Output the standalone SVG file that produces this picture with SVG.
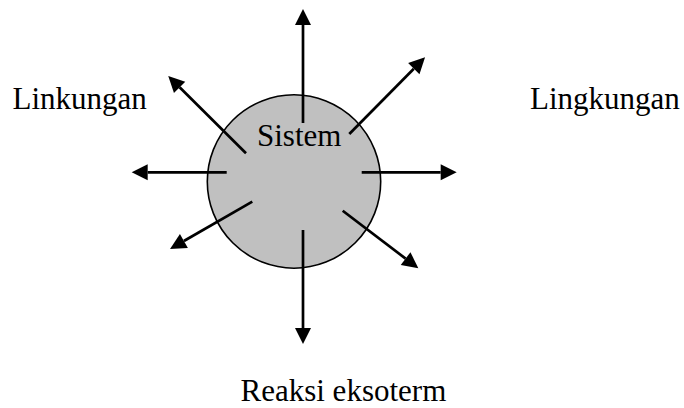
<svg xmlns="http://www.w3.org/2000/svg" width="684" height="408" viewBox="0 0 684 408">
  <style>
    .lbl { font-family: "Liberation Serif", "Times New Roman", serif; font-size: 31px; fill: #000; }
    .arr { stroke: #000; stroke-width: 2.7; fill: none; marker-end: url(#ah); }
  </style>
  <defs>
    <marker id="ah" markerUnits="userSpaceOnUse" markerWidth="16" markerHeight="16" viewBox="0 0 16 16" refX="0" refY="8" orient="auto" overflow="visible">
      <path d="M0,0 L16,8 L0,16 z" fill="#000"/>
    </marker>
  </defs>
  <rect width="684" height="408" fill="#fff"/>
  <g id="sistem">
    <circle cx="294" cy="181.5" r="86.7" fill="#c0c0c0" stroke="#000" stroke-width="1.6"/>
  </g>
  <g id="connectors">
    <line class="arr" x1="303" y1="123" x2="303" y2="25"/>
    <line class="arr" x1="303" y1="230" x2="303" y2="328"/>
    <line class="arr" x1="226.7" y1="172.3" x2="147.7" y2="172.3"/>
    <line class="arr" x1="361.7" y1="172.3" x2="440.7" y2="172.3"/>
    <line class="arr" x1="349.3" y1="134" x2="413.8" y2="68.7"/>
    <line class="arr" x1="246" y1="153.3" x2="179.6" y2="87.3"/>
    <line class="arr" x1="252.3" y1="201.7" x2="183.9" y2="241"/>
    <line class="arr" x1="342.7" y1="210.7" x2="405.6" y2="258.6"/>
  </g>
  <g id="sistem-label">
    <text class="lbl" x="257" y="146">Sistem</text>
  </g>
  <g id="linkungan">
    <text class="lbl" x="12.5" y="109">Linkungan</text>
  </g>
  <g id="lingkungan">
    <text class="lbl" x="530" y="109">Lingkungan</text>
  </g>
  <g id="reaksi">
    <text class="lbl" x="240.5" y="400.5">Reaksi eksoterm</text>
  </g>
</svg>
